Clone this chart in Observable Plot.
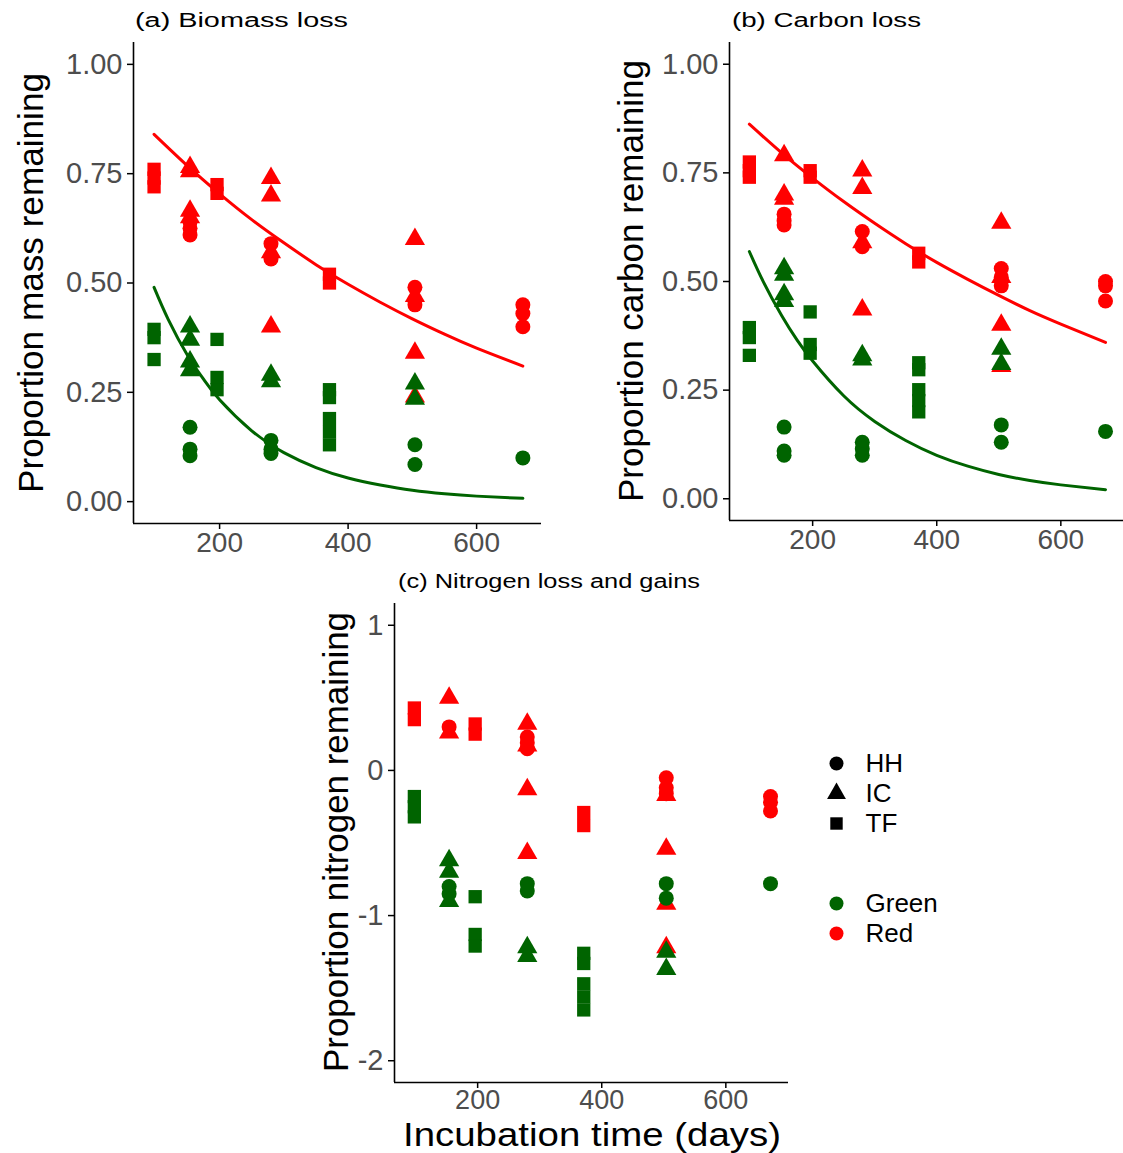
<!DOCTYPE html>
<html>
<head>
<meta charset="utf-8">
<script src="https://cdn.jsdelivr.net/npm/d3@7"></script>
<script src="https://cdn.jsdelivr.net/npm/@observablehq/plot@0.6"></script>
<style>
  body { margin: 0; background: #fff; font-family: "Liberation Sans", Arial, sans-serif; }
  #fig { position: relative; width: 1123px; height: 1153px; overflow: hidden; background: #fff; }
  .abs { position: absolute; }
  .ptitle { font-size: 20px; line-height: 22px; color: #000; white-space: nowrap; transform-origin: 0 50%; }
  .ytitle { font-size: 35px; line-height: 36px; color: #000; white-space: nowrap; }
  .xtitle { font-size: 33px; line-height: 37px; color: #000; white-space: nowrap; }
</style>
</head>
<body>
<div id="fig"></div>
<script>
// ---------- categories & ticks ----------
const litters = ["Green", "Red"];
const litterColours = ["#006400", "#FF0000"];
const sites = ["HH", "IC", "TF"];
const siteSymbols = ["circle", "triangle", "square"];
const xTicks = [200, 400, 600];
const yTicksAB = [0, 0.25, 0.5, 0.75, 1];
const yTicksC = [-2, -1, 0, 1];
const xDomain = [66, 701];

// ---------- (a) Biomass loss: [day, proportion] ----------
const massRedTF = [[98,0.76],[98,0.74],[98,0.72],[196,0.725],[196,0.705],[371,0.52],[371,0.50]];
const massRedIC = [[154,0.765],[154,0.755],[154,0.665],[154,0.65],[280,0.74],[280,0.70],[280,0.57],[280,0.40],[504,0.60],[504,0.47],[504,0.34],[504,0.24]];
const massRedHH = [[154,0.64],[154,0.625],[154,0.61],[280,0.59],[280,0.56],[280,0.555],[504,0.49],[504,0.46],[504,0.45],[672,0.45],[672,0.43],[672,0.40]];
const massGreenTF = [[98,0.394],[98,0.375],[98,0.325],[196,0.371],[196,0.284],[196,0.256],[371,0.256],[371,0.238],[371,0.19],[371,0.16],[371,0.13]];
const massGreenIC = [[154,0.40],[154,0.37],[154,0.32],[154,0.30],[280,0.29],[280,0.275],[504,0.27],[504,0.235]];
const massGreenHH = [[154,0.17],[154,0.12],[154,0.105],[280,0.14],[280,0.12],[280,0.11],[504,0.13],[504,0.085],[672,0.10]];
const massRedFit = [[98,0.84],[150,0.768],[200,0.704],[250,0.645],[300,0.592],[350,0.542],[400,0.497],[450,0.456],[500,0.418],[550,0.383],[600,0.351],[672,0.310]];
const massGreenFit = [[98,0.49],[120,0.417],[150,0.335],[175,0.280],[200,0.233],[250,0.162],[300,0.112],[350,0.078],[400,0.054],[450,0.038],[500,0.026],[550,0.018],[600,0.0126],[672,0.0075]];

// ---------- (b) Carbon loss ----------
const carbRedTF = [[98,0.775],[98,0.755],[98,0.74],[196,0.755],[196,0.74],[371,0.565],[371,0.545]];
const carbRedIC = [[154,0.79],[154,0.70],[154,0.69],[280,0.755],[280,0.715],[280,0.59],[280,0.435],[504,0.635],[504,0.51],[504,0.40],[504,0.305]];
const carbRedHH = [[154,0.655],[154,0.64],[154,0.63],[280,0.615],[280,0.58],[504,0.53],[504,0.51],[504,0.49],[672,0.50],[672,0.49],[672,0.455]];
const carbGreenTF = [[98,0.394],[98,0.371],[98,0.33],[196,0.43],[196,0.355],[196,0.335],[371,0.313],[371,0.297],[371,0.251],[371,0.226],[371,0.20]];
const carbGreenIC = [[154,0.53],[154,0.515],[154,0.47],[154,0.455],[280,0.33],[280,0.32],[504,0.345],[504,0.31]];
const carbGreenHH = [[154,0.165],[154,0.11],[154,0.10],[280,0.13],[280,0.115],[280,0.10],[504,0.17],[504,0.13],[672,0.155]];
const carbRedFit = [[98,0.862],[150,0.796],[200,0.738],[250,0.684],[300,0.634],[350,0.587],[400,0.544],[450,0.505],[500,0.468],[550,0.433],[600,0.402],[672,0.360]];
const carbGreenFit = [[98,0.569],[120,0.501],[150,0.422],[175,0.365],[200,0.317],[250,0.237],[300,0.178],[350,0.134],[400,0.100],[450,0.075],[500,0.056],[550,0.042],[600,0.032],[672,0.021]];

// ---------- (c) Nitrogen loss and gains ----------
const nitRedTF = [[98,0.43],[98,0.35],[196,0.32],[196,0.25],[371,-0.29],[371,-0.38]];
const nitRedIC = [[154,0.50],[154,0.26],[280,0.32],[280,0.17],[280,-0.13],[280,-0.57],[504,-0.17],[504,-0.54],[504,-0.92],[504,-1.22]];
const nitRedHH = [[154,0.30],[280,0.23],[280,0.19],[280,0.15],[504,-0.05],[504,-0.12],[504,-0.16],[672,-0.18],[672,-0.22],[672,-0.28]];
const nitGreenTF = [[98,-0.18],[98,-0.25],[98,-0.32],[196,-0.87],[196,-1.13],[196,-1.21],[371,-1.26],[371,-1.33],[371,-1.47],[371,-1.56],[371,-1.65]];
const nitGreenIC = [[154,-0.62],[154,-0.70],[154,-0.90],[280,-1.22],[280,-1.28],[504,-1.25],[504,-1.37]];
const nitGreenHH = [[154,-0.80],[154,-0.85],[280,-0.78],[280,-0.83],[504,-0.78],[504,-0.88],[672,-0.78]];

// ---------- drawing ----------
const fig = document.getElementById("fig");
const FONT = "'Liberation Sans', Arial, sans-serif";
const colourOf = litter => litterColours[litters.indexOf(litter)];
const symbolScale = { domain: sites, range: siteSymbols };

function drawPanel(cfg) {
  const groups = [
    ["Red", "HH", cfg.redHH], ["Red", "IC", cfg.redIC], ["Red", "TF", cfg.redTF],
    ["Green", "HH", cfg.greenHH], ["Green", "IC", cfg.greenIC], ["Green", "TF", cfg.greenTF]
  ];
  const marks = [
    Plot.ruleX([xDomain[0]], { stroke: "#000", strokeWidth: 1.6 }),
    Plot.ruleY([cfg.yDomain[0]], { stroke: "#000", strokeWidth: 1.6 }),
    Plot.axisX({ ticks: xTicks, tickSize: 6, tickPadding: cfg.xPad, fontSize: cfg.xFont, stroke: "#000", fill: "#4D4D4D", strokeWidth: 1.5, label: null }),
    Plot.axisY({ ticks: cfg.yTicks, tickFormat: cfg.fmt, tickSize: 6, tickPadding: 5, fontSize: 29, stroke: "#000", fill: "#4D4D4D", strokeWidth: 1.5, label: null })
  ];
  for (const [litter, site, data] of groups) {
    marks.push(Plot.dot(data, { x: d => d[0], y: d => d[1], symbol: () => site, fill: colourOf(litter), r: 7.5 }));
  }
  for (const [litter, data] of (cfg.fits || [])) {
    marks.push(Plot.line(data, { x: d => d[0], y: d => d[1], stroke: colourOf(litter), strokeWidth: 3, curve: "natural" }));
  }
  const svg = Plot.plot({
    width: cfg.width, height: cfg.height,
    marginLeft: cfg.mL, marginRight: cfg.mR, marginTop: cfg.mT, marginBottom: cfg.mB,
    x: { domain: xDomain },
    y: { domain: cfg.yDomain },
    symbol: symbolScale,
    style: { fontFamily: FONT, background: "transparent", overflow: "visible" },
    marks
  });
  svg.classList.add("abs");
  svg.style.left = cfg.left + "px";
  svg.style.top = cfg.top + "px";
  fig.appendChild(svg);
}

const fmt2 = d3.format(".2f");
const fmtInt = d => String(d);

drawPanel({
  left: 0, top: 0, width: 560, height: 570, mL: 133, mR: 19, mT: 42, mB: 47,
  yDomain: [-0.05, 1.05], yTicks: yTicksAB, fmt: fmt2, xFont: 28, xPad: 3,
  redHH: massRedHH, redIC: massRedIC, redTF: massRedTF,
  greenHH: massGreenHH, greenIC: massGreenIC, greenTF: massGreenTF,
  fits: [["Red", massRedFit], ["Green", massGreenFit]]
});
drawPanel({
  left: 580, top: 0, width: 543, height: 570, mL: 149, mR: 0, mT: 42, mB: 50,
  yDomain: [-0.05, 1.05], yTicks: yTicksAB, fmt: fmt2, xFont: 28, xPad: 3,
  redHH: carbRedHH, redIC: carbRedIC, redTF: carbRedTF,
  greenHH: carbGreenHH, greenIC: carbGreenIC, greenTF: carbGreenTF,
  fits: [["Red", carbRedFit], ["Green", carbGreenFit]]
});
drawPanel({
  left: 240, top: 560, width: 560, height: 593, mL: 154, mR: 12, mT: 43, mB: 71,
  yDomain: [-2.15, 1.15], yTicks: yTicksC, fmt: fmtInt, xFont: 27, xPad: 1,
  redHH: nitRedHH, redIC: nitRedIC, redTF: nitRedTF,
  greenHH: nitGreenHH, greenIC: nitGreenIC, greenTF: nitGreenTF
});

// ---------- legends ----------
const shapeLegend = Plot.plot({
  width: 130, height: 92, margin: 0,
  x: { domain: [0, 1], range: [16, 120], axis: null },
  y: { type: "point", domain: sites, range: [15, 75], padding: 0, axis: null },
  symbol: symbolScale,
  style: { fontFamily: FONT, background: "transparent", overflow: "visible" },
  marks: [
    Plot.dot(sites, { x: () => 0, y: d => d, symbol: d => d, r: 7, fill: "#000" }),
    Plot.text(sites, { x: () => 0, y: d => d, text: d => d, dx: 29, textAnchor: "start", fontSize: 26, fill: "#000" })
  ]
});
shapeLegend.classList.add("abs");
shapeLegend.style.left = "820px";
shapeLegend.style.top = "748px";
fig.appendChild(shapeLegend);

const colourLegend = Plot.plot({
  width: 150, height: 62, margin: 0,
  x: { domain: [0, 1], range: [16, 140], axis: null },
  y: { type: "point", domain: litters, range: [15, 45], padding: 0, axis: null },
  style: { fontFamily: FONT, background: "transparent", overflow: "visible" },
  marks: [
    Plot.dot(litters, { x: () => 0, y: d => d, fill: d => colourOf(d), r: 7 }),
    Plot.text(litters, { x: () => 0, y: d => d, text: d => d, dx: 29, textAnchor: "start", fontSize: 26, fill: "#000" })
  ]
});
colourLegend.classList.add("abs");
colourLegend.style.left = "820px";
colourLegend.style.top = "888px";
fig.appendChild(colourLegend);

// ---------- titles ----------
function addText(cls, text, left, top, targetWidth, rotate) {
  const el = document.createElement("div");
  el.className = "abs " + cls;
  el.textContent = text;
  fig.appendChild(el);
  const w = el.getBoundingClientRect().width;
  const h = el.getBoundingClientRect().height;
  const s = targetWidth ? targetWidth / w : 1;
  if (rotate) {
    el.style.left = (left - w / 2) + "px";
    el.style.top = (top - h / 2) + "px";
    el.style.transformOrigin = "50% 50%";
    el.style.transform = `rotate(-90deg) scaleX(${s})`;
  } else {
    el.style.left = left + "px";
    el.style.top = (top - h / 2) + "px";
    el.style.transformOrigin = "0 50%";
    el.style.transform = `scaleX(${s})`;
  }
}
addText("ptitle", "(a) Biomass loss", 135, 20, 213);
addText("ptitle", "(b) Carbon loss", 732, 20, 189);
addText("ptitle", "(c) Nitrogen loss and gains", 398, 581, 302);
addText("ytitle", "Proportion mass remaining", 31, 283, 420, true);
addText("ytitle", "Proportion carbon remaining", 631, 281, 442, true);
addText("ytitle", "Proportion nitrogen remaining", 336, 842, 460, true);
addText("xtitle", "Incubation time (days)", 403, 1134, 378);
</script>
</body>
</html>
